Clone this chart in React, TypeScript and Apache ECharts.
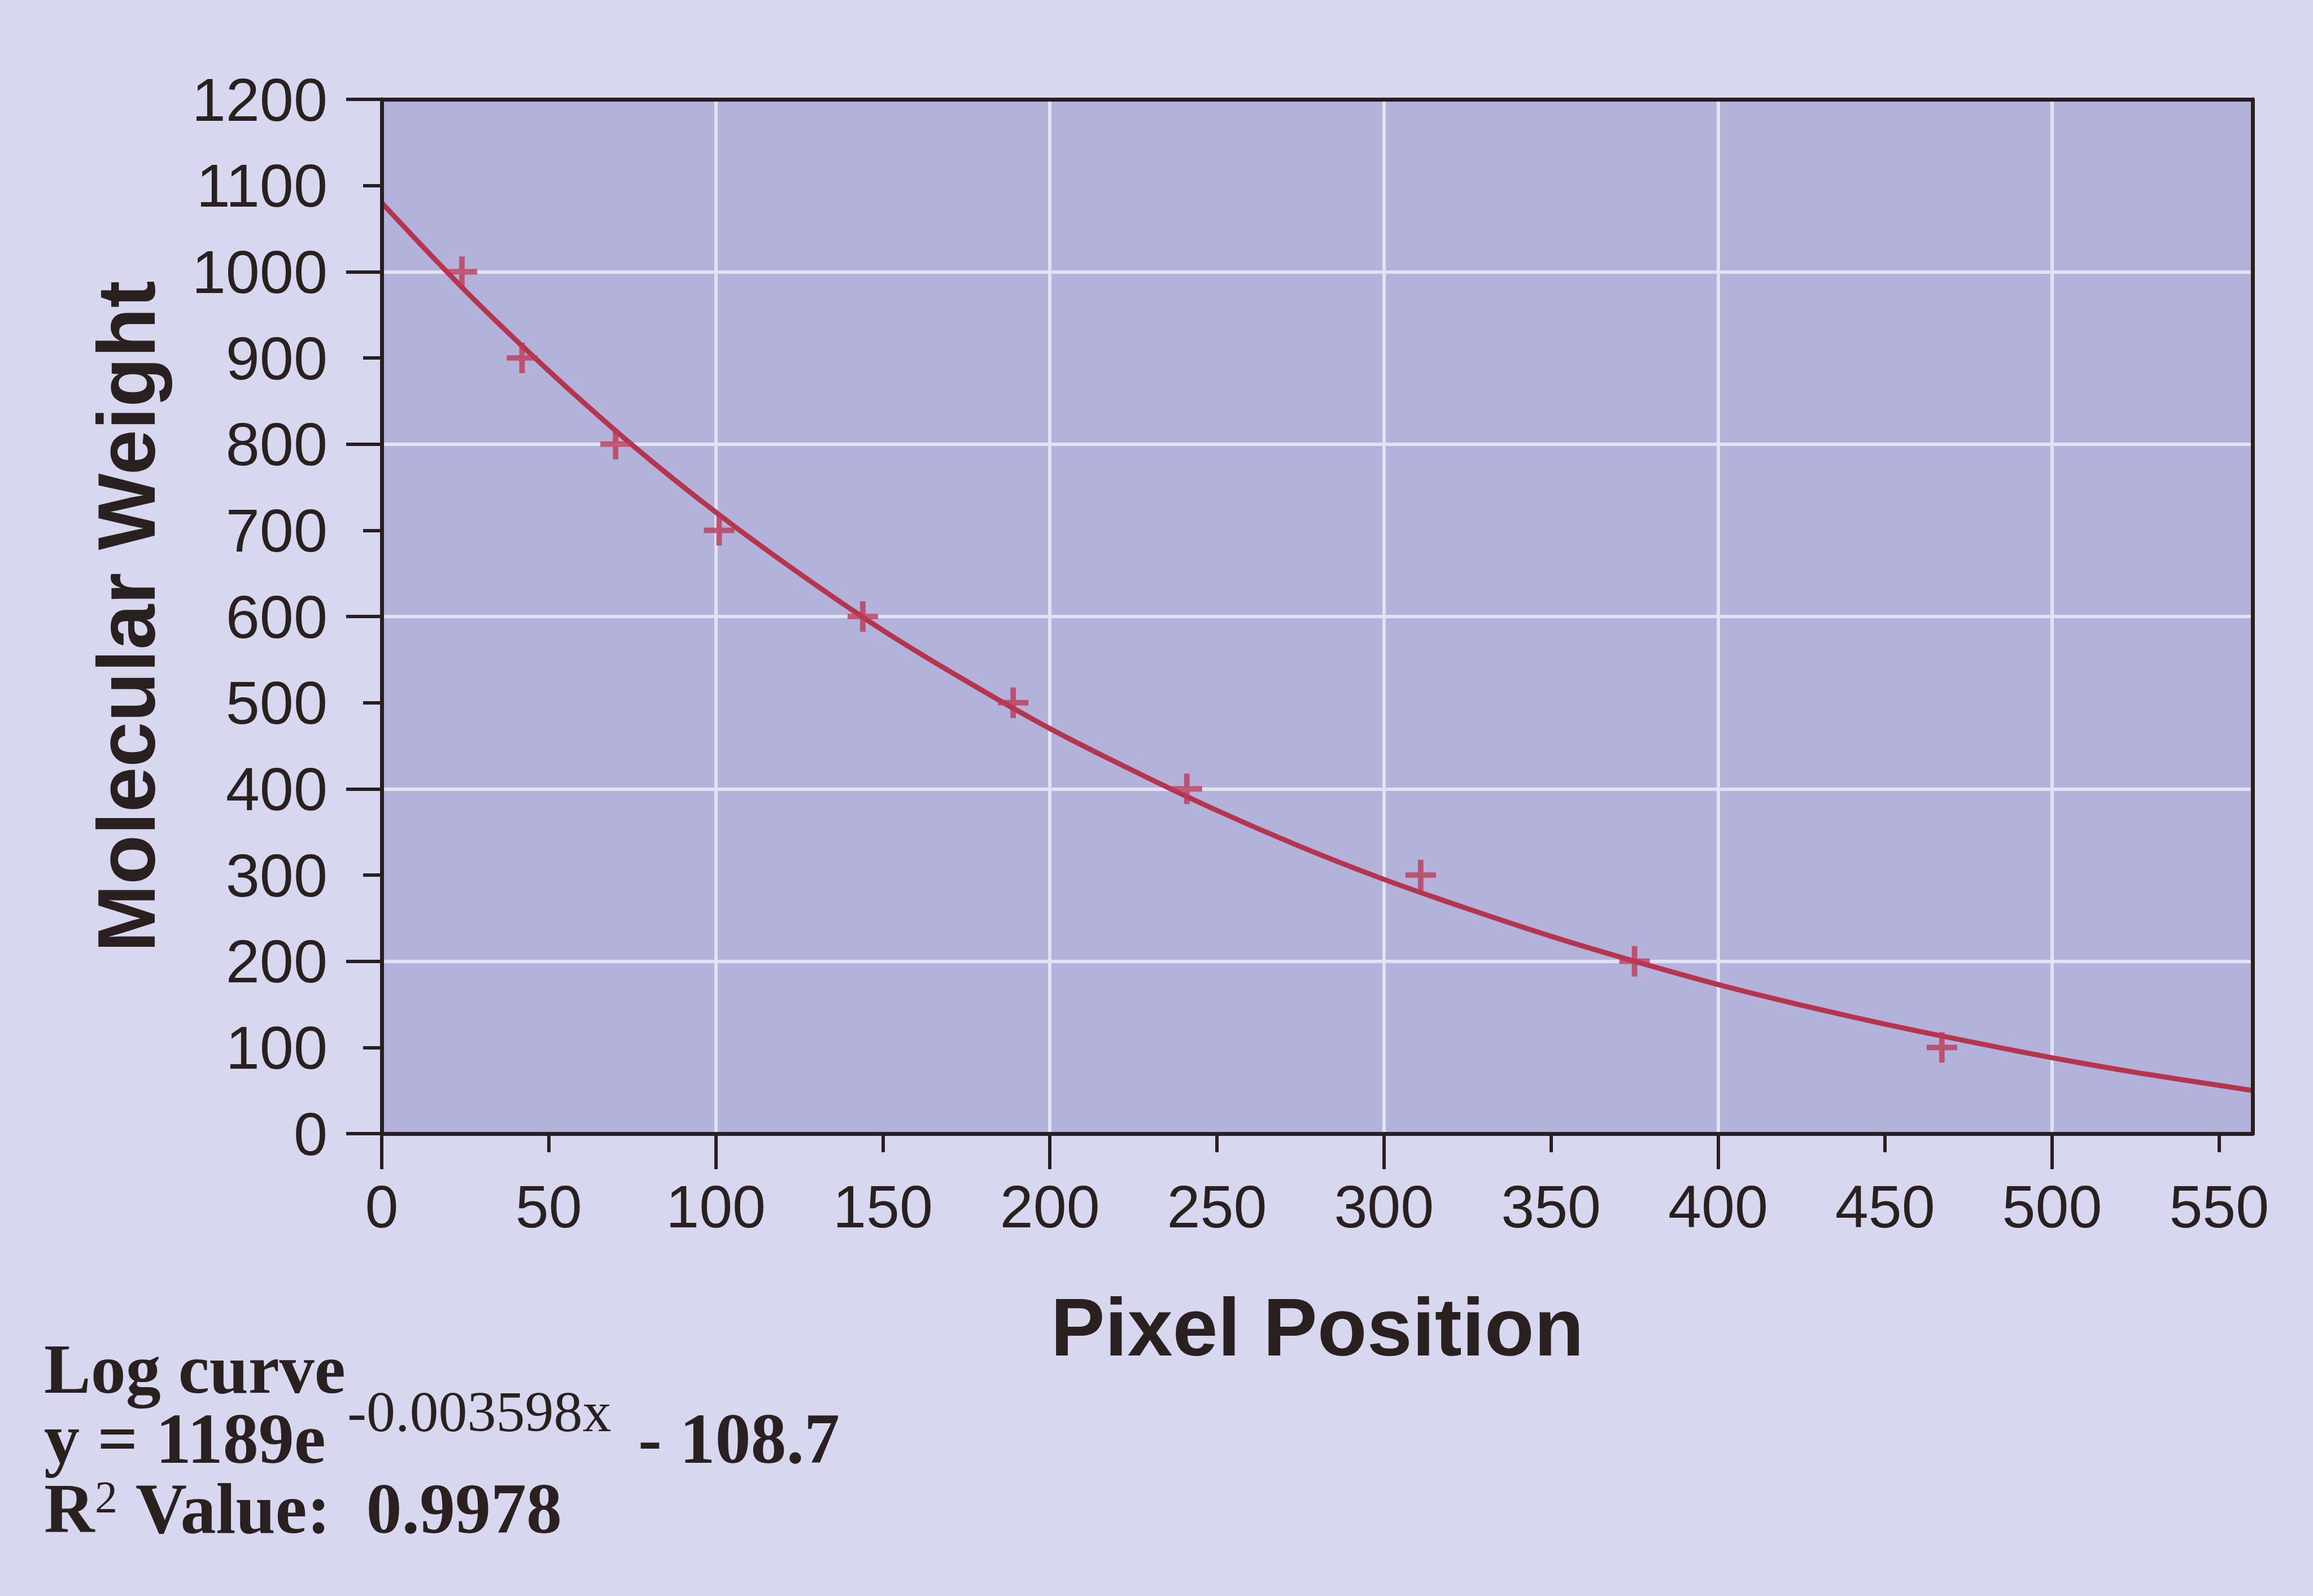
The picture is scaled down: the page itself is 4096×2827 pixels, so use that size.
import React, { useEffect, useRef } from "react";
import * as echarts from "echarts";

// Marker data (pixel position vs molecular weight)
const pixelPositions = [24, 42, 70, 101, 144, 189, 241, 311, 375, 467];
const molecularWeights = [1000, 900, 800, 700, 600, 500, 400, 300, 200, 100];

// Fitted curve
const curveX = [0, 25, 50, 75, 100, 125, 150, 175, 200, 225, 250, 275, 300, 325, 350, 375, 400, 425, 450, 475, 500, 525, 550, 560];
const curveY = [1080, 978, 885, 799, 721, 650, 584, 525, 470, 421, 375, 333, 295, 261, 229, 200, 173, 149, 127, 107, 88, 71, 56, 50];

// Axis ticks / labels
const xLabelValues = [0, 50, 100, 150, 200, 250, 300, 350, 400, 450, 500, 550];
const xMajorTicks = [0, 100, 200, 300, 400, 500];
const xMinorTicks = [50, 150, 250, 350, 450, 550];
const yMinorTicks = [100, 300, 500, 700, 900, 1100];

const AXIS_COLOR = "#2a1f1f";
const TEXT_COLOR = "#2a2020";
const RED = "#b5354f";
const GRID_LINE = "#e2e2f5";
const SANS = "'Liberation Sans', Arial, sans-serif";
const SERIF = "'Liberation Serif', 'Times New Roman', serif";

const PLUS =
  "path://M-1.8,-10L1.8,-10L1.8,-1.8L10,-1.8L10,1.8L1.8,1.8L1.8,10L-1.8,10L-1.8,1.8L-10,1.8L-10,-1.8L-1.8,-1.8Z";

export default function App() {
  const ref = useRef<HTMLDivElement>(null);

  useEffect(() => {
    document.body.style.margin = "0";
    if (!ref.current) return;
    const chart = echarts.init(ref.current, undefined, { renderer: "svg" });

    const serifText = (
      text: string,
      x: number,
      y: number,
      size: number,
      weight: string = "bold"
    ) => ({
      type: "text",
      x,
      y,
      z: 10,
      style: {
        text,
        fill: TEXT_COLOR,
        fontFamily: SERIF,
        fontSize: size,
        fontWeight: weight,
        textAlign: "left",
        textVerticalAlign: "middle",
        align: "left",
        verticalAlign: "middle",
      },
    });

    const plain = (v: number) => String(v);

    const option: any = {
      animation: false,
      backgroundColor: "#d7d7ef",
      grid: {
        left: 676,
        right: 107,
        top: 176,
        bottom: 819,
        show: true,
        backgroundColor: "#b2b2db",
        borderWidth: 0,
      },
      xAxis: [
        {
          type: "value",
          min: 0,
          max: 560,
          interval: 50,
          position: "bottom",
          z: 4,
          axisLine: { show: true, onZero: false, lineStyle: { color: AXIS_COLOR, width: 7 } },
          axisTick: {
            show: true,
            length: 33,
            customValues: xMinorTicks,
            lineStyle: { color: AXIS_COLOR, width: 6 },
          },
          axisLabel: {
            customValues: xLabelValues,
            formatter: plain,
            margin: 76,
            fontSize: 106,
            fontFamily: SANS,
            color: TEXT_COLOR,
          },
          splitLine: { show: false },
          name: "Pixel Position",
          nameLocation: "middle",
          nameGap: 271,
          nameTextStyle: {
            fontSize: 144,
            fontWeight: "bold",
            fontFamily: SANS,
            color: TEXT_COLOR,
          },
        },
        {
          type: "value",
          min: 0,
          max: 560,
          interval: 100,
          position: "bottom",
          z: 1,
          axisLine: { show: false, onZero: false },
          axisTick: {
            show: true,
            length: 63,
            customValues: xMajorTicks,
            lineStyle: { color: AXIS_COLOR, width: 6 },
          },
          axisLabel: { show: false },
          splitLine: { show: true, lineStyle: { color: GRID_LINE, width: 6 } },
        },
        {
          type: "value",
          min: 0,
          max: 560,
          position: "top",
          z: 4,
          axisLine: { show: true, onZero: false, lineStyle: { color: AXIS_COLOR, width: 7 } },
          axisTick: { show: false },
          axisLabel: { show: false },
          splitLine: { show: false },
        },
      ],
      yAxis: [
        {
          type: "value",
          min: 0,
          max: 1200,
          interval: 100,
          position: "left",
          z: 4,
          axisLine: { show: true, onZero: false, lineStyle: { color: AXIS_COLOR, width: 7 } },
          axisTick: {
            show: true,
            length: 33,
            customValues: yMinorTicks,
            lineStyle: { color: AXIS_COLOR, width: 6 },
          },
          axisLabel: {
            formatter: plain,
            margin: 96,
            fontSize: 108,
            fontFamily: SANS,
            color: TEXT_COLOR,
          },
          splitLine: { show: false },
          name: "Molecular Weight",
          nameLocation: "middle",
          nameGap: 380,
          nameTextStyle: {
            fontSize: 144,
            fontWeight: "bold",
            fontFamily: SANS,
            color: TEXT_COLOR,
          },
        },
        {
          type: "value",
          min: 0,
          max: 1200,
          interval: 200,
          position: "left",
          z: 1,
          axisLine: { show: false, onZero: false },
          axisTick: { show: true, length: 63, lineStyle: { color: AXIS_COLOR, width: 6 } },
          axisLabel: { show: false },
          splitLine: { show: true, lineStyle: { color: GRID_LINE, width: 6 } },
        },
        {
          type: "value",
          min: 0,
          max: 1200,
          position: "right",
          z: 4,
          axisLine: { show: true, onZero: false, lineStyle: { color: AXIS_COLOR, width: 7 } },
          axisTick: { show: false },
          axisLabel: { show: false },
          splitLine: { show: false },
        },
      ],
      series: [
        {
          type: "line",
          xAxisIndex: 0,
          yAxisIndex: 0,
          z: 3,
          data: curveX.map((x, i) => [x, curveY[i]]),
          smooth: 0.3,
          showSymbol: false,
          symbol: "none",
          lineStyle: { color: RED, width: 9 },
        },
        {
          type: "scatter",
          xAxisIndex: 0,
          yAxisIndex: 0,
          z: 3,
          data: pixelPositions.map((x, i) => [x, molecularWeights[i]]),
          symbol: PLUS,
          symbolSize: 54,
          itemStyle: { color: "#bd3a56" },
        },
      ],
      graphic: [
        serifText("Log curve", 78, 2425, 124),
        serifText("y = 1189e", 78, 2548, 126),
        serifText("-0.003598x", 615, 2500, 102, "normal"),
        serifText("- 108.7", 1130, 2548, 126),
        serifText("R", 78, 2672, 124),
        serifText("2", 168, 2652, 80, "normal"),
        serifText("Value:  0.9978", 240, 2672, 126),
      ],
    };

    chart.setOption(option);
    return () => chart.dispose();
  }, []);

  return <div ref={ref} style={{ width: 4096, height: 2827 }} />;
}
